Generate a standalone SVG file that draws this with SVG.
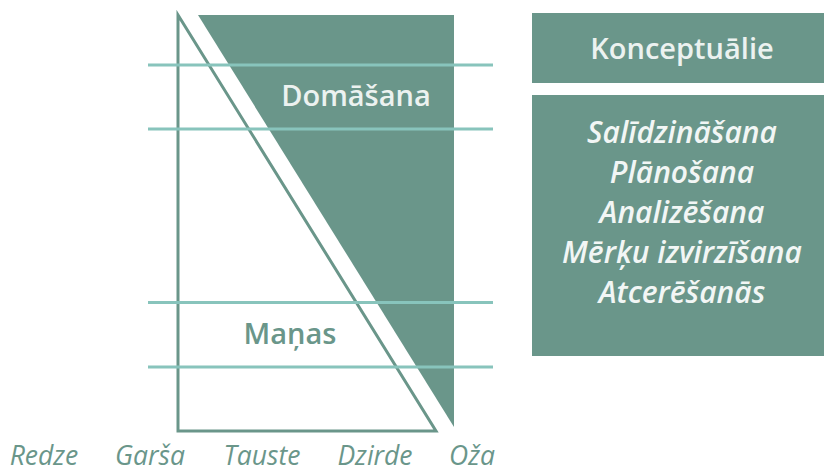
<svg xmlns="http://www.w3.org/2000/svg" width="824" height="473" viewBox="0 0 824 473">
<style>
.fill{fill:#6a968a}
.band{stroke:#88c4bc;stroke-width:3;fill:none}
.tri{fill:none;stroke:#6a968a;stroke-width:3}
.lt{font-family:"Open Sans","Noto Sans",sans-serif;font-weight:600;fill:#ecf2f0;text-anchor:middle;font-size:29px}
.it{font-family:"Open Sans","Noto Sans",sans-serif;font-style:italic;font-weight:600;fill:#f2f6f5;text-anchor:middle;font-size:30px}
.ax{font-family:"Open Sans","Noto Sans",sans-serif;font-style:italic;fill:#6a968a;text-anchor:middle;font-size:26.5px}
</style>
<rect width="824" height="473" fill="#ffffff"/>
<g id="domasana">
<polygon class="fill" points="198,15 454,15 454,427"/>
<text class="lt" x="356" y="106">Domāšana</text>
</g>
<g id="manas">
<polygon class="tri" points="178,15 178,431 436,431"/>
<text x="290" y="344" font-family="'Open Sans','Noto Sans',sans-serif" font-weight="600" font-size="29" fill="#6a968a" text-anchor="middle">Maņas</text>
</g>
<g id="bands">
<line class="band" x1="148" y1="65" x2="493" y2="65"/>
<line class="band" x1="148" y1="129" x2="493" y2="129"/>
<line class="band" x1="148" y1="302.5" x2="493" y2="302.5"/>
<line class="band" x1="148" y1="367" x2="493" y2="367"/>
</g>
<g id="konceptualie">
<rect class="fill" x="532" y="13" width="292" height="70"/>
<text class="lt" x="682" y="59">Konceptuālie</text>
</g>
<g id="list">
<rect class="fill" x="532" y="95" width="292" height="261"/>
<text class="it" x="682" y="143">Salīdzināšana</text>
<text class="it" x="682" y="183">Plānošana</text>
<text class="it" x="682" y="223">Analizēšana</text>
<text class="it" x="682" y="263">Mērķu izvirzīšana</text>
<text class="it" x="682" y="303">Atcerēšanās</text>
</g>
<g id="axis">
<text class="ax" x="44" y="465">Redze</text>
<text class="ax" x="150" y="465">Garša</text>
<text class="ax" x="262" y="465">Tauste</text>
<text class="ax" x="375" y="465">Dzirde</text>
<text class="ax" x="472" y="465">Oža</text>
</g>
</svg>
